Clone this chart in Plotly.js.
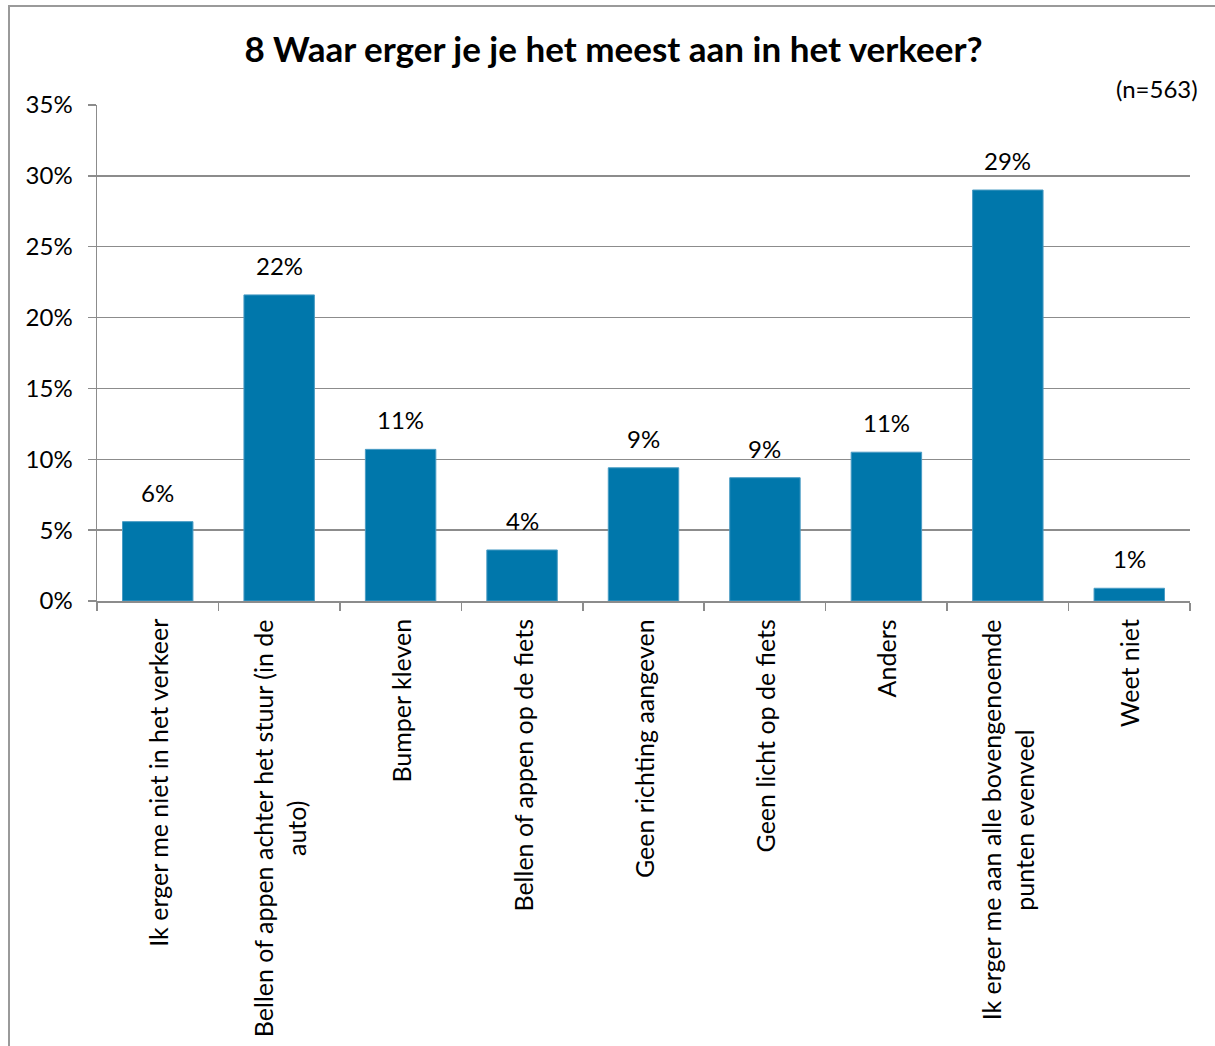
<!DOCTYPE html>
<html>
<head>
<meta charset="utf-8">
<script src="https://cdn.plot.ly/plotly-3.0.1.min.js"></script>
<style>
  html, body { margin: 0; padding: 0; background: #fff; }
  #chart { position: absolute; left: 0; top: 0; width: 1215px; height: 1046px; }
  #frame { position: absolute; left: 8px; top: 5px; width: 1220px; height: 1060px;
           border-left: 2px solid #9a9a9a; border-top: 2px solid #9a9a9a;
           pointer-events: none; z-index: 10; }
</style>
</head>
<body>
<div id="chart"></div>
<div id="frame"></div>
<script>
const categories = [
  "Ik erger me niet in het verkeer",
  "Bellen of appen achter het stuur (in de<br>auto)",
  "Bumper kleven",
  "Bellen of appen op de fiets",
  "Geen richting aangeven",
  "Geen licht op de fiets",
  "Anders",
  "Ik erger me aan alle bovengenoemde<br>punten evenveel",
  "Weet niet"
];
const values = [5.6, 21.6, 10.7, 3.6, 9.4, 8.7, 10.5, 29.0, 0.9];
const valueLabels = ["6%", "22%", "11%", "4%", "9%", "9%", "11%", "29%", "1%"];
const titleText = "8 Waar erger je je het meest aan in het verkeer?";
const noteText = "(n=563)";

const FONT = "Lato, 'Open Sans', sans-serif";
const ids = categories.map((c, i) => "c" + i);

const annotations = [];
ids.forEach((id, i) => {
  annotations.push({
    x: id, xref: "x", y: values[i], yref: "y",
    text: valueLabels[i], showarrow: false,
    yanchor: "bottom", yshift: 13,
    font: { family: FONT, size: 24, color: "#000" }
  });
  annotations.push({
    x: id, xref: "x", y: 0, yref: "paper",
    text: categories[i], showarrow: false,
    textangle: -90, align: "center",
    xanchor: "center", yanchor: "top", yshift: -16,
    font: { family: FONT, size: 25, color: "#000" }
  });
});
annotations.push({
  x: 1, xref: "paper", y: 1, yref: "paper",
  text: noteText, showarrow: false,
  xanchor: "right", yanchor: "bottom", xshift: 10, yshift: 0,
  font: { family: FONT, size: 24, color: "#000" }
});

const trace = {
  type: "bar",
  x: ids,
  y: values,
  marker: { color: "#0077ab", line: { color: "#4a9cc4", width: 1 } },
  hoverinfo: "skip"
};

const layout = {
  width: 1215, height: 1046,
  margin: { l: 97, r: 25, t: 105, b: 445 },
  paper_bgcolor: "#fff", plot_bgcolor: "#fff",
  showlegend: false,
  bargap: 0.42,
  title: {
    text: "<b>" + titleText + "</b>",
    x: 0.505, xanchor: "center", y: 0.952, yanchor: "middle",
    font: { family: FONT, size: 35, color: "#000" }
  },
  xaxis: {
    type: "category",
    showticklabels: false,
    tickson: "boundaries",
    ticks: "outside", ticklen: 8, tickwidth: 1.5, tickcolor: "#8c8c8c",
    showline: true, linecolor: "#8c8c8c", linewidth: 1.5,
    showgrid: false, zeroline: false, fixedrange: true
  },
  yaxis: {
    range: [0, 35], dtick: 5, tick0: 0,
    ticksuffix: "%",
    ticks: "outside", ticklen: 8, tickwidth: 1.5, tickcolor: "#8c8c8c",
    ticklabelstandoff: 10,
    showline: true, linecolor: "#8c8c8c", linewidth: 1.5,
    showgrid: true, gridcolor: "#8c8c8c", gridwidth: 1.5,
    zeroline: false,
    tickfont: { family: FONT, size: 24, color: "#000" },
    fixedrange: true
  },
  annotations: annotations
};

Plotly.newPlot("chart", [trace], layout, { displayModeBar: false, staticPlot: true });
</script>
</body>
</html>
